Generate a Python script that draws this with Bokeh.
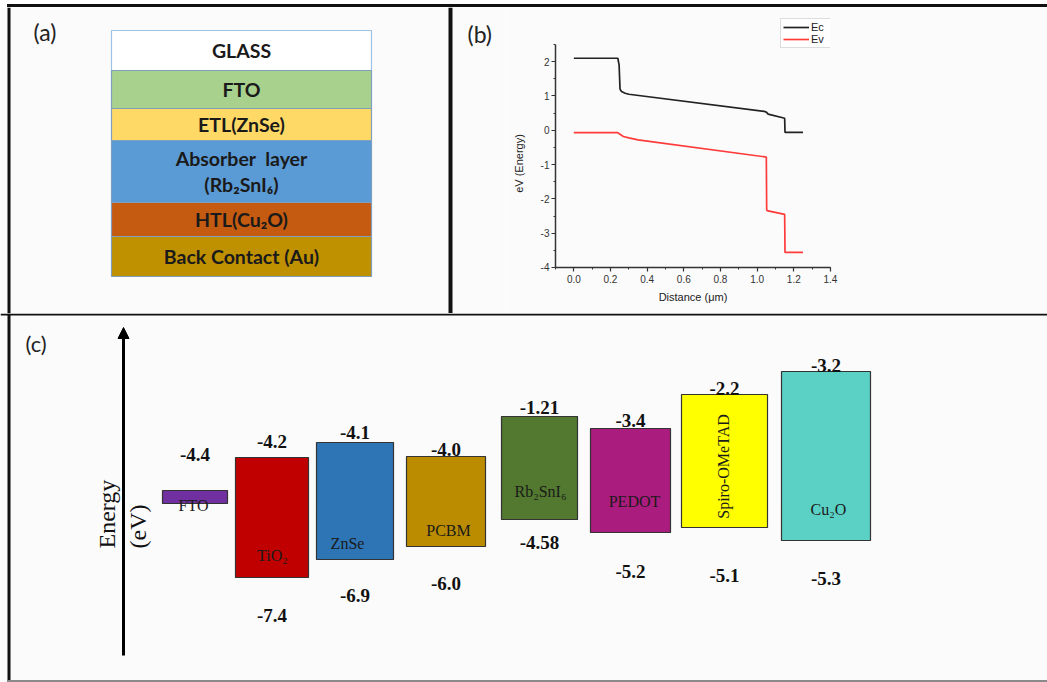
import math
from bokeh.plotting import figure
from bokeh.layouts import row, column
from bokeh.models import (Range1d, ColumnDataSource, Arrow, NormalHead, SingleIntervalTicker,
                          NumeralTickFormatter, Legend, LegendItem, Div)
from bokeh.core.properties import value
from bokeh.embed import file_html
from bokeh.resources import INLINE

# ---------------- data ----------------
# (a) device stack (schematic relative thickness)
layer_names = ["GLASS", "FTO", "ETL(ZnSe)", "Absorber\u00a0 layer\n(Rb\u2082SnI\u2086)", "HTL(Cu\u2082O)", "Back Contact (Au)"]
layer_thickness = [40, 38, 32, 62, 34, 40]
layer_colors = ["#ffffff", "#a9d18e", "#ffd966", "#5b9bd5", "#c55a11", "#bf9000"]
layer_lines = ["#9dc3e6", "#7f9fbf", "#7f9fbf", "#7f9fbf", "#7f9fbf", "#7f9fbf"]

# (b) band diagram
ec_x = [0.0, 0.24, 0.247, 0.252, 0.26, 0.28, 0.30, 1.04, 1.05, 1.06, 1.15, 1.152, 1.25]
ec_y = [2.10, 2.10, 1.90, 1.20, 1.13, 1.08, 1.05, 0.55, 0.53, 0.47, 0.35, -0.06, -0.06]
ev_x = [0.0, 0.24, 0.25, 0.27, 0.30, 0.35, 1.05, 1.052, 1.06, 1.15, 1.152, 1.25]
ev_y = [-0.07, -0.07, -0.11, -0.18, -0.22, -0.28, -0.78, -2.33, -2.35, -2.45, -3.56, -3.56]

# (c) energy level alignment
materials = ["FTO", "TiO\u2082", "ZnSe", "PCBM", "Rb\u2082SnI\u2086", "PEDOT", "Spiro-OMeTAD", "Cu\u2082O"]
cb_labels = ["-4.4", "-4.2", "-4.1", "-4.0", "-1.21", "-3.4", "-2.2", "-3.2"]
vb_labels = ["", "-7.4", "-6.9", "-6.0", "-4.58", "-5.2", "-5.1", "-5.3"]
band_top = [-17.4, -14.1, -12.6, -14.0, -10.0, -11.2, -7.8, -5.5]      # schematic level
band_bottom = [-18.7, -26.1, -24.3, -23.0, -20.3, -21.6, -21.1, -22.4]  # schematic level

# ---------------- layout / style ----------------
bar_colors = ["#7030a0", "#c00000", "#2e75b6", "#bb8c00", "#52792f", "#aa1c7d", "#ffff00", "#5bd1c5"]
bar_x = [183.5, 260.5, 343.5, 434.5, 528, 619, 713, 814.5]
bar_w = [65, 73, 77, 79, 76, 80, 86, 89]
cb_label_y = [-13.8, -12.5, -11.6, -13.3, -9.1, -10.4, -7.2, -4.9]
vb_label_y = [0, -29.9, -27.9, -26.7, -22.6, -25.5, -25.9, -26.2]
name_x = [182, 261, 336, 437, 529, 623, 712, 817]
name_y = [-18.9, -23.9, -22.7, -21.4, -17.5, -18.5, -15.0, -19.3]
name_angle = [0, 0, 0, 0, 0, 0, math.pi / 2, 0]

BG = "#fbfbfb"
SERIF = "Liberation Serif"
SANS = "Liberation Sans"
CAL = "Lato"
BORDER = "#111111"
W = 1047


def blank(w, h, xr, yr):
    f = figure(width=w, height=h, x_range=xr, y_range=yr,
               toolbar_location=None, output_backend="svg", min_border=0,
               x_axis_type=None, y_axis_type=None,
               background_fill_color=BG, border_fill_color=BG, outline_line_color=None)
    f.grid.visible = False
    return f


# ---------------- top frame line ----------------
TOP = 7
top_line = Div(text="", width=W - 7, height=3, margin=(4, 0, 0, 7),
               styles={"background-color": BORDER})

# ---------------- panel (a) (also holds the "(b)" letter) ----------------
WA, HA = 505, 306
pa = blank(WA, HA, Range1d(0, WA), Range1d(-(TOP + HA), -TOP))
pa.quad(left=[7, 448], right=[10, 452], top=[-TOP, -TOP], bottom=[-(TOP + HA), -(TOP + HA)],
        fill_color=BORDER, line_color=None)
stack_top = 30
tops, bots = [], []
cur = stack_top
for t in layer_thickness:
    tops.append(-cur)
    bots.append(-(cur + t))
    cur += t
sa = ColumnDataSource(dict(top=tops, bottom=bots, c=layer_colors, lc=layer_lines,
                           name=layer_names, mid=[(a + b) / 2 for a, b in zip(tops, bots)]))
pa.quad(left=111, right=371, top="top", bottom="bottom", fill_color="c", line_color="lc",
        line_width=1.2, source=sa)
pa.text(x=241, y="mid", text="name", source=sa, text_align="center", text_baseline="middle",
        text_font=value(CAL), text_font_style="bold", text_font_size="19.5px",
        text_color="#1a1a1a", text_line_height=1.15)
pa.text(x=[33, 467], y=[-31, -33], text=["(a)", "(b)"], text_align="left", text_baseline="middle",
        text_font=value(CAL), text_font_size="23px", text_color="#222222")

# ---------------- panel (b) ----------------
WB, HB = W - WA, HA
pb = figure(width=WB, height=HB, x_range=Range1d(-0.1, 1.4001), y_range=Range1d(-4.0001, 3.58),
            toolbar_location=None, output_backend="svg",
            min_border_left=50, min_border_right=217, min_border_top=0, min_border_bottom=46,
            background_fill_color=BG, border_fill_color=BG, outline_line_color=None)
pb.grid.visible = False
r_ec = pb.line(ec_x, ec_y, line_color="#222222", line_width=1.7)
r_ev = pb.line(ev_x, ev_y, line_color="#ff3b3b", line_width=1.7)
pb.xaxis.ticker = SingleIntervalTicker(interval=0.2, num_minor_ticks=2)
pb.yaxis.ticker = SingleIntervalTicker(interval=1, num_minor_ticks=2)
pb.xaxis.formatter = NumeralTickFormatter(format="0.0")
pb.yaxis.formatter = NumeralTickFormatter(format="0")
pb.yaxis.bounds = (-4.0001, 2.5)
for ax in (pb.xaxis[0], pb.yaxis[0]):
    ax.axis_line_color = "#333333"
    ax.axis_line_width = 1.5
    ax.major_tick_line_color = "#333333"
    ax.minor_tick_line_color = "#333333"
    ax.major_tick_line_width = 1.2
    ax.major_tick_in = 0
    ax.major_tick_out = 4
    ax.minor_tick_in = 0
    ax.minor_tick_out = 2
    ax.major_label_text_font = SANS
    ax.major_label_text_font_size = "10px"
    ax.major_label_text_color = "#333333"
    ax.axis_label_text_font = SANS
    ax.axis_label_text_font_size = "11px"
    ax.axis_label_text_font_style = "normal"
    ax.axis_label_text_color = "#222222"
pb.xaxis.axis_label = "Distance (\u03bcm)"
# trailing no-break spaces centre the label on the drawn (bounded) part of the axis
pb.yaxis.axis_label = "eV (Energy)" + "\u00a0" * 17
pb.xaxis.major_label_standoff = 3
pb.yaxis.major_label_standoff = 2
pb.xaxis.axis_label_standoff = 5
pb.yaxis.axis_label_standoff = 13
leg = Legend(items=[LegendItem(label="Ec", renderers=[r_ec]), LegendItem(label="Ev", renderers=[r_ev])],
             location=(225, 219), orientation="vertical", border_line_color="#bbbbbb",
             border_line_width=1, background_fill_color="white", background_fill_alpha=1,
             padding=2, spacing=0, margin=0, glyph_width=26, glyph_height=12,
             label_height=12, label_standoff=2, label_text_font=SANS,
             label_text_font_size="11px", label_text_color="#222222")
pb.add_layout(leg, "center")

# ---------------- panel (c) ----------------
HC = 682 - TOP - HA
pc = blank(W, HC, Range1d(-11, W - 11), Range1d(-36.6, 0.3))
pc.quad(left=[-11, -4], right=[W, -1], top=[0.3, 0.3], bottom=[0.1, -36.6],
        fill_color=BORDER, line_color=None)
pc.quad(left=[-4], right=[W], top=[-36.35], bottom=[-36.55], fill_color="#8a8a8a", line_color=None)
sc = ColumnDataSource(dict(
    l=[x - w / 2 for x, w in zip(bar_x, bar_w)], r=[x + w / 2 for x, w in zip(bar_x, bar_w)],
    top=band_top, bottom=band_bottom, c=bar_colors, x=bar_x,
    cb=cb_labels, vb=vb_labels, cby=cb_label_y, vby=vb_label_y,
    name=materials, nx=name_x, ny=name_y, na=name_angle))
pc.quad(left="l", right="r", top="top", bottom="bottom", fill_color="c",
        line_color="#333333", line_width=1.2, source=sc)
pc.text(x="x", y="cby", text="cb", source=sc, text_align="center", text_baseline="middle",
        text_font=value(SERIF), text_font_style="bold", text_font_size="19px", text_color="#111111")
pc.text(x="x", y="vby", text="vb", source=sc, text_align="center", text_baseline="middle",
        text_font=value(SERIF), text_font_style="bold", text_font_size="19px", text_color="#111111")
pc.text(x="nx", y="ny", text="name", angle="na", source=sc, text_align="center",
        text_baseline="middle", text_font=value(SERIF), text_font_size="16px", text_color="#1a1a1a")
pc.add_layout(Arrow(x_start=112, y_start=-33.9, x_end=112, y_end=-1.1, line_width=3,
                    line_color="black",
                    end=NormalHead(size=11, fill_color="black", line_color="black")))
pc.text(x=[95, 126], y=[-23.2, -23.2], text=["Energy", "(eV)"], angle=math.pi / 2,
        text_align="left", text_baseline="middle", text_font=value(SERIF),
        text_font_size="24px", text_color="#111111")
pc.text(x=[14], y=[-2.65], text=["(c)"], text_align="left", text_baseline="middle",
        text_font=value(CAL), text_font_size="22px", text_color="#222222")

# ---------------- assemble ----------------
layout = column(top_line, row(pa, column(pb)), pc)

open("out.html", "w").write(file_html(layout, INLINE))
